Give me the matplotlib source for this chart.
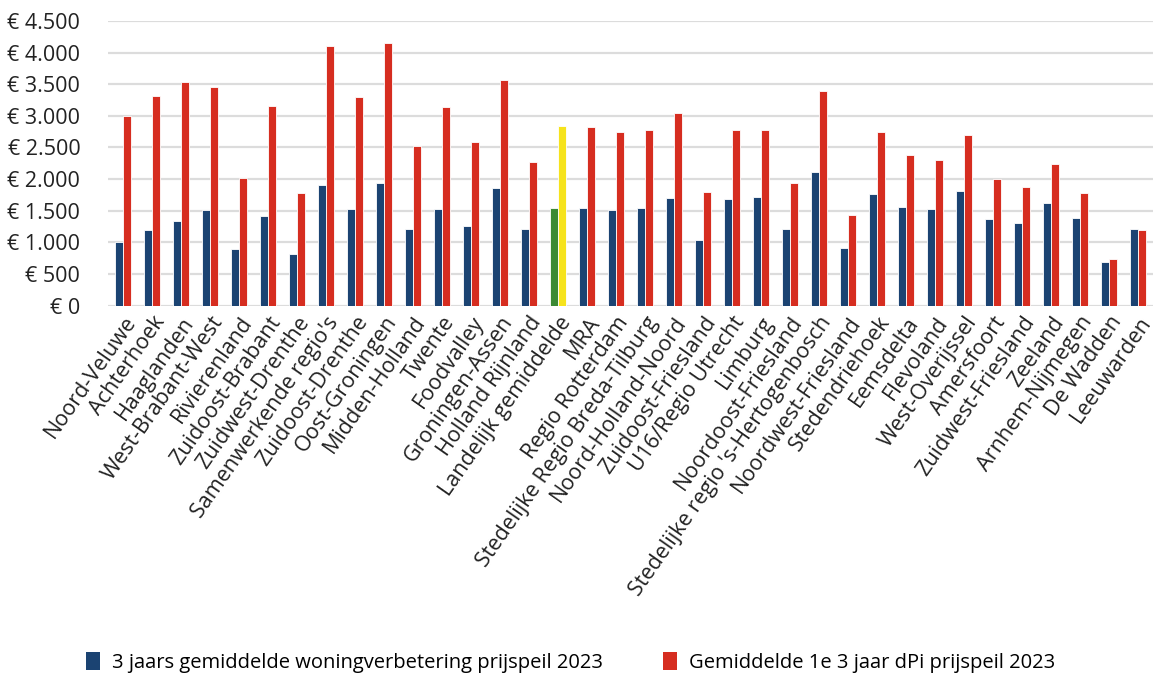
import matplotlib
matplotlib.use("Agg")
import matplotlib.pyplot as plt
import numpy as np
from matplotlib.patches import Patch

categories = ["Noord-Veluwe", "Achterhoek", "Haaglanden", "West-Brabant-West", "Rivierenland",
              "Zuidoost-Brabant", "Zuidwest-Drenthe", "Samenwerkende regio's", "Zuidoost-Drenthe",
              "Oost-Groningen", "Midden-Holland", "Twente", "Foodvalley", "Groningen-Assen",
              "Holland Rijnland", "Landelijk gemiddelde", "MRA", "Regio Rotterdam",
              "Stedelijke Regio Breda-Tilburg", "Noord-Holland-Noord", "Zuidoost-Friesland",
              "U16/Regio Utrecht", "Limburg", "Noordoost-Friesland",
              "Stedelijke regio 's-Hertogenbosch", "Noordwest-Friesland", "Stedendriehoek",
              "Eemsdelta", "Flevoland", "West-Overijssel", "Amersfoort", "Zuidwest-Friesland",
              "Zeeland", "Arnhem-Nijmegen", "De Wadden", "Leeuwarden"]

woningverbetering = [1010, 1195, 1340, 1505, 900, 1420, 815, 1900, 1530, 1945,
                     1205, 1530, 1250, 1860, 1205, 1540, 1540, 1505, 1537, 1700,
                     1030, 1680, 1720, 1205, 2115, 907, 1757, 1556, 1520, 1810,
                     1366, 1303, 1615, 1382, 695, 1208]

dpi_values = [2990, 3308, 3540, 3456, 2010, 3160, 1780, 4110, 3293, 4148,
              2527, 3144, 2580, 3567, 2274, 2838, 2828, 2739, 2775, 3044,
              1789, 2775, 2775, 1941, 3392, 1425, 2739, 2379, 2295, 2696,
              1999, 1868, 2242, 1780, 735, 1197]

yticks = [0, 500, 1000, 1500, 2000, 2500, 3000, 3500, 4000, 4500]
ytick_labels = ["€ 0", "€ 500", "€ 1.000", "€ 1.500", "€ 2.000", "€ 2.500",
                "€ 3.000", "€ 3.500", "€ 4.000", "€ 4.500"]

series_names = ["3 jaars gemiddelde woningverbetering prijspeil 2023",
                "Gemiddelde 1e 3 jaar dPi prijspeil 2023"]
highlight = "Landelijk gemiddelde"

BLUE = "#1b4372"
RED = "#d62d20"
GREEN = "#3b8a34"
YELLOW = "#f6e31c"

plt.rcParams['font.family'] = ['Open Sans', 'DejaVu Sans']

fig = plt.figure(figsize=(11.53, 6.75), dpi=100)
ax = fig.add_axes([0.0937, 0.5474, 0.9063, 0.4215])

x = np.arange(len(categories))
blue_colors = [GREEN if c == highlight else BLUE for c in categories]
red_colors = [YELLOW if c == highlight else RED for c in categories]
w = 0.27
ax.bar(x - 0.145, woningverbetering, width=w, color=blue_colors, edgecolor="white",
       linewidth=0.6, zorder=3)
ax.bar(x + 0.145, dpi_values, width=w, color=red_colors, edgecolor="white",
       linewidth=0.6, zorder=3)

ax.set_xlim(-0.52, len(categories) - 0.48)
ax.set_ylim(0, 4500)
ax.set_yticks(yticks)
ax.set_yticklabels(ytick_labels, fontsize=15.5, color="#222222")
ax.set_xticks(x)
ax.set_xticklabels(categories, rotation=55, ha="right", rotation_mode="anchor",
                   fontsize=15.5, color="#222222")
ax.tick_params(axis="both", length=0)
ax.tick_params(axis="y", pad=20)
ax.tick_params(axis="x", pad=5)
for s in ax.spines.values():
    s.set_visible(False)
ax.grid(axis="y", color="#dcdcdc", linewidth=1.6, zorder=0)
ax.set_axisbelow(True)

handles = [Patch(facecolor=BLUE, label=series_names[0]),
           Patch(facecolor=RED, label=series_names[1])]
fig.legend(handles=handles, loc="center", bbox_to_anchor=(0.495, 0.018),
           ncol=2, frameon=False,
           prop={'family': ['Open Sans', 'DejaVu Sans'], 'size': 14.5},
           handlelength=0.7, handleheight=1.0, handletextpad=0.6, columnspacing=3.0)

fig.savefig("out.png", dpi=100)
